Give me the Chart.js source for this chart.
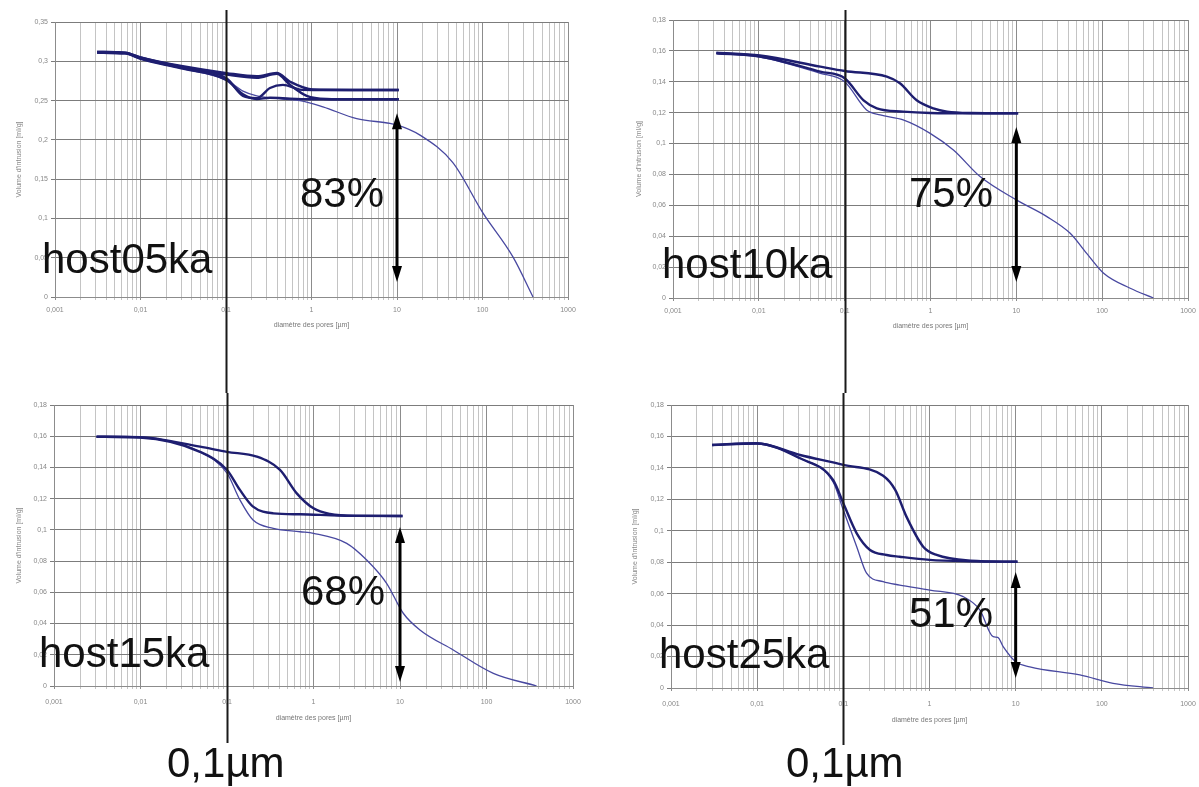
<!DOCTYPE html>
<html><head><meta charset="utf-8">
<script src="https://cdn.jsdelivr.net/npm/chart.js@4.4.1/dist/chart.umd.min.js"></script>
<style>
html,body{margin:0;padding:0;background:#fff;width:1199px;height:787px;overflow:hidden;position:relative;}
canvas{position:absolute;}
.lbl{position:absolute;font-family:"Liberation Sans",Arial,sans-serif;font-size:42px;line-height:42px;color:#111;white-space:nowrap;}
</style></head><body>
<canvas id="p1" width="600" height="393" style="left:0;top:0"></canvas>
<canvas id="p2" width="599" height="393" style="left:600px;top:0"></canvas>
<canvas id="p3" width="600" height="394" style="left:0;top:393px"></canvas>
<canvas id="p4" width="599" height="394" style="left:600px;top:393px"></canvas>
<div id="labels"></div>
<script>
// ---------- axis ticks ----------
const xDecades = [0.001, 0.01, 0.1, 1, 10, 100, 1000];
const xTickLabels = ['0,001', '0,01', '0,1', '1', '10', '100', '1000'];
const yTicksP1 = [0, 0.05, 0.1, 0.15, 0.2, 0.25, 0.3, 0.35];
const yLabelsP1 = ['0', '0,05', '0,1', '0,15', '0,2', '0,25', '0,3', '0,35'];
const yTicks018 = [0, 0.02, 0.04, 0.06, 0.08, 0.1, 0.12, 0.14, 0.16, 0.18];
const yLabels018 = ['0', '0,02', '0,04', '0,06', '0,08', '0,1', '0,12', '0,14', '0,16', '0,18'];
const xTitle = 'diamètre des pores [µm]';
const yTitle = "Volume d'intrusion [ml/g]";

// ---------- annotations ----------
const panelNames = ['host05ka', 'host10ka', 'host15ka', 'host25ka'];
const panelPct = ['83%', '75%', '68%', '51%'];
const refLineX = 0.1;
const refLineLabel = '0,1µm';
const arrowX = [10, 10, 10, 10];
const arrowTop = [0.234, 0.1107, 0.1019, 0.0738];
const arrowBottom = [0.019, 0.0104, 0.0026, 0.0064];

// ---------- host05ka ----------
const h05a_x = [0.0031, 0.0066, 0.01, 0.03, 0.102, 0.229, 0.392, 0.561, 1.04, 3, 10.5];
const h05a_y = [0.312, 0.311, 0.305, 0.294, 0.285, 0.281, 0.285, 0.274, 0.264, 0.2635, 0.2635];
const h05b_x = [0.0031, 0.0066, 0.01, 0.03, 0.102, 0.158, 0.229, 0.327, 0.464, 0.733, 1.04, 3, 10.5];
const h05b_y = [0.311, 0.310, 0.304, 0.292, 0.278, 0.256, 0.253, 0.266, 0.270, 0.264, 0.2635, 0.2635, 0.2635];
const h05c_x = [0.0031, 0.0066, 0.01, 0.03, 0.102, 0.158, 0.229, 0.327, 0.561, 1.04, 3, 10.5];
const h05c_y = [0.311, 0.310, 0.303, 0.291, 0.276, 0.258, 0.252, 0.2535, 0.2525, 0.2516, 0.2516, 0.2516];
const h05d_x = [0.0031, 0.0066, 0.01, 0.03, 0.102, 0.229, 0.392, 0.561, 0.879, 1.5, 3, 10.5];
const h05d_y = [0.312, 0.311, 0.305, 0.293, 0.283, 0.279, 0.284, 0.270, 0.256, 0.252, 0.2516, 0.2516];
const h05e_x = [0.0031, 0.0066, 0.01, 0.03, 0.102, 0.158, 0.229, 0.464, 0.733, 1.36, 3.38, 8.28, 10, 18.6, 45, 101, 227, 390];
const h05e_y = [0.311, 0.310, 0.303, 0.291, 0.276, 0.262, 0.256, 0.252, 0.250, 0.242, 0.227, 0.221, 0.219, 0.206, 0.171, 0.107, 0.051, 0];

// ---------- host10ka ----------
const h10a_x = [0.0032, 0.0103, 0.052, 0.1, 0.31, 0.44, 0.69, 1.08, 1.56, 3, 10.5];
const h10a_y = [0.1588, 0.1570, 0.1498, 0.147, 0.1433, 0.139, 0.128, 0.1228, 0.1207, 0.1198, 0.1196];
const h10b_x = [0.0032, 0.0103, 0.052, 0.1, 0.166, 0.237, 0.48, 1, 3, 10.5];
const h10b_y = [0.1585, 0.1564, 0.1466, 0.1423, 0.128, 0.1228, 0.1207, 0.1198, 0.1196, 0.1196];
const h10c_x = [0.0032, 0.0103, 0.052, 0.1, 0.18, 0.259, 0.48, 0.99, 1.85, 3.78, 10, 22.7, 42.4, 66, 104, 212, 396];
const h10c_y = [0.1583, 0.1560, 0.1455, 0.140, 0.1218, 0.1185, 0.1153, 0.1066, 0.0958, 0.0786, 0.0635, 0.0527, 0.0419, 0.0289, 0.016, 0.0063, 0];

// ---------- host15ka ----------
const h15a_x = [0.0031, 0.0099, 0.0488, 0.1, 0.221, 0.41, 0.64, 1.0, 1.55, 3, 10.7];
const h15a_y = [0.1597, 0.1594, 0.1533, 0.150, 0.1469, 0.1384, 0.1234, 0.1138, 0.1102, 0.1090, 0.1089];
const h15b_x = [0.0031, 0.0099, 0.0488, 0.1, 0.141, 0.2, 0.343, 0.70, 2, 10.7];
const h15b_y = [0.1597, 0.1592, 0.150, 0.1384, 0.1256, 0.1149, 0.1106, 0.1100, 0.1092, 0.1089];
const h15c_x = [0.0031, 0.0099, 0.0488, 0.1, 0.141, 0.2, 0.343, 0.70, 1.0, 2.42, 4.12, 7.0, 10.9, 17, 41.3, 120, 380];
const h15c_y = [0.1597, 0.1591, 0.150, 0.1363, 0.1192, 0.1063, 0.101, 0.0988, 0.0978, 0.0914, 0.0807, 0.0658, 0.0466, 0.0359, 0.0231, 0.0081, 0];

// ---------- host25ka ----------
const h25a_x = [0.003, 0.0098, 0.0314, 0.1, 0.29, 0.40, 0.54, 0.845, 1.21, 3, 10.5];
const h25a_y = [0.1546, 0.1557, 0.1482, 0.1419, 0.1350, 0.126, 0.109, 0.0899, 0.0846, 0.0810, 0.0803];
const h25b_x = [0.003, 0.0098, 0.0314, 0.076, 0.1, 0.143, 0.204, 0.318, 0.45, 1, 3, 10.5];
const h25b_y = [0.1546, 0.1555, 0.1461, 0.1323, 0.1175, 0.0984, 0.0878, 0.0846, 0.0835, 0.0815, 0.0806, 0.0803];
const h25c_x = [0.003, 0.0098, 0.0314, 0.076, 0.1, 0.143, 0.186, 0.29, 0.45, 1.01, 2.46, 3.85, 5.48, 6.2, 7.16, 10, 14.6, 55.6, 135, 394];
const h25c_y = [0.1546, 0.1555, 0.1461, 0.1310, 0.1132, 0.0899, 0.073, 0.0676, 0.0655, 0.0623, 0.0581, 0.0496, 0.0326, 0.0322, 0.0263, 0.0167, 0.0135, 0.0083, 0.003, 0];

// ---------- helpers ----------
const FONT = 'Liberation Sans';
const xAllTicks = [];
xDecades.forEach((d, i) => {
  if (i < xDecades.length - 1) { for (let k = 1; k <= 9; k++) xAllTicks.push(d * k); }
  else xAllTicks.push(d);
});
function decadeIndex(v) {
  for (let i = 0; i < xDecades.length; i++) if (Math.abs(v / xDecades[i] - 1) < 1e-6) return i;
  return -1;
}
const thick = { borderColor: '#1e1e70', borderWidth: 2.4 };
const thin = { borderColor: '#4848a0', borderWidth: 1.3 };
function ds(xs, ys, style) {
  return Object.assign({
    data: xs.map((x, i) => ({ x: x, y: ys[i] })),
    showLine: true, pointRadius: 0, fill: false,
    cubicInterpolationMode: 'monotone'
  }, style);
}

const overlay = {
  id: 'overlay',
  afterDraw(chart, args, o) {
    const ctx = chart.ctx, x = chart.scales.x, y = chart.scales.y;
    ctx.save();
    const px = Math.round(x.getPixelForValue(o.refX)) + 0.5;
    ctx.strokeStyle = '#1a1a1a'; ctx.lineWidth = 2;
    ctx.beginPath(); ctx.moveTo(px, o.lineTop); ctx.lineTo(px, o.lineBottom); ctx.stroke();
    const ax = x.getPixelForValue(o.arrowX);
    const y1 = y.getPixelForValue(o.arrowTop), y2 = y.getPixelForValue(o.arrowBottom);
    ctx.strokeStyle = '#000'; ctx.fillStyle = '#000'; ctx.lineWidth = 3;
    ctx.beginPath(); ctx.moveTo(ax, y1 + 10); ctx.lineTo(ax, y2 - 10); ctx.stroke();
    ctx.beginPath(); ctx.moveTo(ax, y1); ctx.lineTo(ax - 5, y1 + 16); ctx.lineTo(ax + 5, y1 + 16); ctx.closePath(); ctx.fill();
    ctx.beginPath(); ctx.moveTo(ax, y2); ctx.lineTo(ax - 5, y2 - 16); ctx.lineTo(ax + 5, y2 - 16); ctx.closePath(); ctx.fill();
    ctx.restore();
  }
};

function makeChart(id, datasets, yTicks, yLabels, g, idx) {
  return new Chart(document.getElementById(id), {
    type: 'scatter',
    data: { datasets: datasets },
    plugins: [overlay],
    options: {
      responsive: false, animation: false, events: [],
      layout: { padding: { left: 0, top: g.top, right: g.right, bottom: g.bottom } },
      plugins: {
        legend: { display: false }, tooltip: { enabled: false },
        overlay: { refX: refLineX, lineTop: g.lineTop, lineBottom: g.lineBottom,
                   arrowX: arrowX[idx], arrowTop: arrowTop[idx], arrowBottom: arrowBottom[idx] }
      },
      scales: {
        x: {
          type: 'logarithmic', min: xDecades[0], max: xDecades[xDecades.length - 1],
          afterBuildTicks: s => { s.ticks = xAllTicks.map(v => ({ value: v })); },
          afterFit: s => { s.height = 36; },
          ticks: {
            autoSkip: false, maxRotation: 0, minRotation: 0, padding: 3,
            font: { family: FONT, size: 7, lineHeight: g.xlh }, color: '#888',
            callback: v => { const i = decadeIndex(v); return i >= 0 ? xTickLabels[i] : ''; }
          },
          grid: {
            color: c => (c.tick && decadeIndex(c.tick.value) >= 0) ? '#8c8c8c' : '#c4c4c4',
            lineWidth: 1, tickLength: 3
          },
          border: { display: true, color: '#8c8c8c' },
          title: { display: true, text: xTitle, font: { family: FONT, size: 7 }, color: '#777',
                   padding: { top: 0, bottom: g.xtb } }
        },
        y: {
          min: yTicks[0], max: yTicks[yTicks.length - 1],
          afterBuildTicks: s => { s.ticks = yTicks.map(v => ({ value: v })); },
          afterFit: s => { s.width = g.yw; },
          ticks: { font: { family: FONT, size: 7 }, color: '#888', padding: 3,
                   callback: (v, i) => yLabels[i] },
          grid: { color: '#7c7c7c', lineWidth: 1, tickLength: 4 },
          border: { display: true, color: '#8c8c8c' },
          title: { display: true, text: yTitle, font: { family: FONT, size: 7 }, color: '#888',
                   padding: { top: g.ytp, bottom: 0 } }
        }
      }
    }
  });
}

makeChart('p1', [ds(h05a_x, h05a_y, thick), ds(h05b_x, h05b_y, thick), ds(h05c_x, h05c_y, thick),
                 ds(h05d_x, h05d_y, thick), ds(h05e_x, h05e_y, thin)],
  yTicksP1, yLabelsP1, { yw: 55, top: 22, right: 32, bottom: 60, xtb: 4, xlh: 2.06, ytp: 15, lineTop: 10, lineBottom: 393 }, 0);
makeChart('p2', [ds(h10a_x, h10a_y, thick), ds(h10b_x, h10b_y, thick), ds(h10c_x, h10c_y, thin)],
  yTicks018, yLabels018, { yw: 73, top: 20, right: 11, bottom: 59, xtb: 4, xlh: 2.06, ytp: 35, lineTop: 10, lineBottom: 393 }, 1);
makeChart('p3', [ds(h15a_x, h15a_y, thick), ds(h15b_x, h15b_y, thick), ds(h15c_x, h15c_y, thin)],
  yTicks018, yLabels018, { yw: 54, top: 12, right: 27, bottom: 65, xtb: 0, xlh: 2.9, ytp: 15, lineTop: 0, lineBottom: 350 }, 2);
makeChart('p4', [ds(h25a_x, h25a_y, thick), ds(h25b_x, h25b_y, thick), ds(h25c_x, h25c_y, thin)],
  yTicks018, yLabels018, { yw: 71, top: 12, right: 11, bottom: 63, xtb: 0, xlh: 2.9, ytp: 31, lineTop: 0, lineBottom: 352 }, 3);

// ---------- big text labels ----------
const labelPos = [
  { t: panelNames[0], l: 42, b: 273 }, { t: panelNames[1], l: 662, b: 278 },
  { t: panelNames[2], l: 39, b: 667 }, { t: panelNames[3], l: 659, b: 668 },
  { t: panelPct[0], l: 300, b: 207 }, { t: panelPct[1], l: 909, b: 207 },
  { t: panelPct[2], l: 301, b: 605 }, { t: panelPct[3], l: 909, b: 627 },
  { t: refLineLabel, l: 167, b: 777 }, { t: refLineLabel, l: 786, b: 777 }
];
const holder = document.getElementById('labels');
labelPos.forEach(p => {
  const d = document.createElement('div');
  d.className = 'lbl';
  d.textContent = p.t;
  d.style.left = p.l + 'px';
  d.style.top = (p.b - 35.5) + 'px';
  holder.appendChild(d);
});
</script>
</body></html>
